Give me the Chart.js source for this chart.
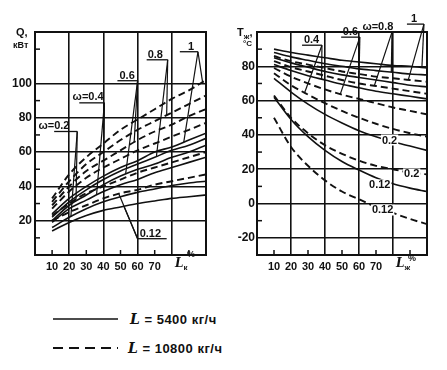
<!DOCTYPE html>
<html>
<head>
<meta charset="utf-8">
<script src="https://cdn.jsdelivr.net/npm/chart.js@4.4.0/dist/chart.umd.min.js"></script>
<style>
  html, body { margin: 0; padding: 0; background: #fff; }
  #wrap { position: relative; width: 447px; height: 370px; overflow: hidden;
          font-family: 'Liberation Sans', Arial, sans-serif; color: #111; font-weight: bold; }
  canvas { position: absolute; top: 0; }
  #qChart { left: 0; }
  #tChart { left: 224px; }
  .t { position: absolute; white-space: nowrap; line-height: 1; }
  .t sub { font-size: 8px; vertical-align: -3px; }
  .L { font-family: 'DejaVu Serif', serif; font-style: italic; }
  .key { position: absolute; font-size: 13px; letter-spacing: 0.5px; white-space: nowrap; line-height: 1; }
  svg { position: absolute; }
</style>
</head>
<body>
<div id="wrap">
  <canvas id="qChart" width="224" height="280"></canvas>
  <canvas id="tChart" width="223" height="280"></canvas>

  <div class="t" style="left:16px;top:27px;font-size:11px;">Q,</div>
  <div class="t" style="left:13px;top:41px;font-size:9px;">кВт</div>
  <div class="t" style="left:237px;top:27px;font-size:11px;">T<sub>ж</sub>,</div>
  <div class="t" style="left:243px;top:40px;font-size:8px;">°C</div>

  <div class="t" style="left:175px;top:257px;font-size:12px;"><span class="L">L</span><sub>к</sub></div>
  <div class="t" style="left:187px;top:250px;font-size:9px;">%</div>
  <div class="t" style="left:396px;top:257px;font-size:12px;"><span class="L">L</span><sub>ж</sub></div>
  <div class="t" style="left:408px;top:254px;font-size:9px;">%</div>

  <svg style="left:50px;top:312px;" width="72" height="40">
    <line x1="3" y1="7" x2="68" y2="7" stroke="#111" stroke-width="1.6"/>
    <line x1="3" y1="36" x2="68" y2="36" stroke="#111" stroke-width="1.8" stroke-dasharray="10,6"/>
  </svg>
  <div class="key" style="left:130px;top:312px;"><span class="L" style="font-size:14px;">L</span> = 5400 кг/ч</div>
  <div class="key" style="left:128px;top:341px;"><span class="L" style="font-size:14px;">L</span> = 10800 кг/ч</div>
</div>

<script>
// x values, % (L_к on the left panel, L_ж on the right panel)
const lValues = [10, 20, 30, 40, 50, 60, 70, 80, 90, 100];
const omegas = ['0.12', '0.2', '0.4', '0.6', '0.8', '1'];

const xTicks = [10, 20, 30, 40, 50, 60, 70, 80];
const xMinor = [10, 30, 50, 70, 90];
const qTicks = [20, 40, 60, 80, 100];
const qMinor = [10, 30, 50, 70, 90, 120];
const tTicks = [-20, 0, 20, 40, 60, 80];
const tMinor = [-10, 10, 30, 50, 70, 90];

// Q, кВт  --  L = 5400 кг/ч (solid)
const q5400_w012 = [14, 19, 23, 26, 28, 30, 31.5, 33, 34, 35];
const q5400_w02  = [16, 22, 27, 31, 34, 36.5, 38.5, 40.5, 42, 43];
const q5400_w04  = [19, 27, 32, 37, 41, 44, 48, 51, 54, 57];
const q5400_w06  = [20, 29, 35, 41, 46, 50, 53, 57, 60, 64];
const q5400_w08  = [22, 31, 38, 44, 49, 53, 57, 61, 64, 68];
const q5400_w1   = [24, 33, 40, 46, 51, 55, 60, 63, 67, 71];
// Q, кВт  --  L = 10800 кг/ч (dashed)
const q10800_w012 = [20, 25, 29, 33, 36, 38, 41, 43, 45, 47];
const q10800_w02  = [23, 30, 36, 40, 44, 48, 51, 54, 57, 60];
const q10800_w04  = [27, 37, 45, 51, 56, 61, 65, 69, 73, 77];
const q10800_w06  = [29, 40, 49, 55, 61, 67, 72, 76, 81, 85];
const q10800_w08  = [31, 43, 53, 60, 67, 73, 78, 83, 88, 93];
const q10800_w1   = [33, 47, 57, 65, 73, 79, 85, 91, 96, 102];

// T_ж, °C  --  L = 5400 кг/ч (solid)
const t5400_w012 = [62, 49, 39, 31, 24.5, 19.5, 15, 11.5, 9, 7];
const t5400_w02  = [73, 65, 58, 52, 47, 42.5, 39, 36, 33.5, 31];
const t5400_w04  = [81, 77.5, 74.5, 72, 69.5, 67.5, 65.5, 64, 62.5, 61];
const t5400_w06  = [85, 82, 79.5, 77, 75, 73.5, 72, 70.5, 69, 68];
const t5400_w08  = [88, 85.5, 83.5, 81.5, 80, 78.5, 77.5, 76.5, 75.5, 75];
const t5400_w1   = [90, 88, 86.5, 85, 83.5, 82.5, 81.5, 80.5, 80, 79];
// T_ж, °C  --  L = 10800 кг/ч (dashed)
const t10800_w012 = [50, 33, 22, 13.5, 7, 2.5, -2, -5.5, -9, -12];
const t10800_w02  = [63, 50, 41, 34, 29, 25, 22, 20, 18, 17];
const t10800_w04  = [76, 69, 63.5, 58.5, 54, 50, 46.5, 43.5, 41, 39];
const t10800_w06  = [79, 74, 70, 66.5, 63.5, 61, 58.5, 56, 54, 52];
const t10800_w08  = [83, 79.5, 77, 74.5, 72, 70, 68.5, 67, 65.5, 64];
const t10800_w1   = [86, 83, 81, 79, 77, 75.5, 74, 73, 72, 71];

const INK = '#111';
const FONT = "'Liberation Sans', Arial, sans-serif";

function buildSets(solid, dashed) {
  const pts = arr => arr.map((v, i) => ({ x: lValues[i], y: v }));
  return [
    ...solid.map((d, i) => ({ label: '5400 ω=' + omegas[i], data: pts(d), borderColor: INK, borderWidth: 1.6 })),
    ...dashed.map((d, i) => ({ label: '10800 ω=' + omegas[i], data: pts(d), borderColor: INK, borderWidth: 1.9, borderDash: [7, 4] }))
  ];
}

// linear read of a curve at a given x (for leader line ends)
function valueAt(data, xv) {
  for (let i = 1; i < data.length; i++) {
    if (xv <= data[i].x) {
      const a = data[i - 1], b = data[i];
      return a.y + (b.y - a.y) * (xv - a.x) / (b.x - a.x);
    }
  }
  return data[data.length - 1].y;
}

// frame, inner minor ticks, leader lines and labels
const notesPlugin = {
  id: 'notes',
  afterDatasetsDraw(chart, args, opts) {
    const { ctx, chartArea: a, scales: { x, y } } = chart;
    ctx.save();
    ctx.strokeStyle = INK;
    ctx.fillStyle = INK;
    ctx.lineWidth = 2;
    ctx.strokeRect(a.left, a.top, a.right - a.left, a.bottom - a.top);

    ctx.lineWidth = 1.5;
    opts.yMinor.forEach(v => {
      const py = y.getPixelForValue(v);
      ctx.beginPath(); ctx.moveTo(a.left, py); ctx.lineTo(a.left + 5, py); ctx.stroke();
    });
    opts.xMinor.forEach(v => {
      const px = x.getPixelForValue(v);
      ctx.beginPath(); ctx.moveTo(px, a.bottom); ctx.lineTo(px, a.bottom - 5); ctx.stroke();
    });

    ctx.lineWidth = 1.2;
    opts.leaders.forEach(l => {
      const data = chart.data.datasets[l.ds].data;
      ctx.beginPath();
      ctx.moveTo(x.getPixelForValue(l.from[0]), y.getPixelForValue(l.from[1]));
      ctx.lineTo(x.getPixelForValue(l.at), y.getPixelForValue(valueAt(data, l.at)));
      ctx.stroke();
    });

    ctx.font = 'bold 11px ' + FONT;
    ctx.textBaseline = 'alphabetic';
    opts.labels.forEach(t => {
      const px = x.getPixelForValue(t.x), py = y.getPixelForValue(t.y);
      const w = ctx.measureText(t.text).width;
      if (t.bg) {
        ctx.fillStyle = '#fff';
        ctx.fillRect(px - 1, py - 9, w + 2, 11);
        ctx.fillStyle = INK;
      }
      ctx.fillText(t.text, px, py);
      if (t.under) {
        ctx.lineWidth = 1.3;
        const uy = y.getPixelForValue(t.under[2]);
        ctx.beginPath();
        ctx.moveTo(x.getPixelForValue(t.under[0]), uy);
        ctx.lineTo(x.getPixelForValue(t.under[1]), uy);
        ctx.stroke();
      }
    });
    ctx.restore();
  }
};

function panelOptions(cfg) {
  return {
    responsive: false,
    animation: false,
    events: [],
    layout: { padding: { top: 32, right: cfg.padRight, left: 0, bottom: 0 } },
    elements: { point: { radius: 0 }, line: { cubicInterpolationMode: 'monotone' } },
    plugins: { legend: { display: false }, tooltip: { enabled: false }, notes: cfg.notes },
    scales: {
      x: {
        type: 'linear', min: 0, max: 100,
        afterBuildTicks: s => { s.ticks = xTicks.map(v => ({ value: v })); },
        afterFit: s => { s.height = 25; },
        border: { display: false },
        grid: { drawTicks: false, lineWidth: 1.6, color: c => (c.tick && c.tick.value % 20 === 0) ? INK : 'rgba(0,0,0,0)' },
        ticks: { autoSkip: false, maxRotation: 0, padding: 5, color: INK, font: { family: FONT, size: 11, weight: 'bold' },
                 callback: v => v <= 70 ? String(v) : '' }
      },
      y: {
        type: 'linear', min: cfg.yMin, max: cfg.yMax,
        afterBuildTicks: s => { s.ticks = cfg.yTicks.map(v => ({ value: v })); },
        afterFit: s => { s.width = cfg.yWidth; },
        border: { display: false },
        grid: { drawTicks: false, lineWidth: 1.6, color: INK },
        ticks: { padding: cfg.yPad, color: INK, font: { family: FONT, size: 12, weight: 'bold' }, callback: v => String(v) }
      }
    }
  };
}

new Chart(document.getElementById('qChart'), {
  type: 'line',
  data: {
    datasets: buildSets(
      [q5400_w012, q5400_w02, q5400_w04, q5400_w06, q5400_w08, q5400_w1],
      [q10800_w012, q10800_w02, q10800_w04, q10800_w06, q10800_w08, q10800_w1])
  },
  options: panelOptions({
    padRight: 18, yWidth: 35, yPad: 3, yMin: 0, yMax: 130, yTicks: qTicks,
    notes: {
      yMinor: qMinor, xMinor: xMinor,
      labels: [
        { text: 'ω=0.2', x: 2, y: 73.5, under: [11.2, 24.7, 72] },
        { text: 'ω=0.4', x: 22, y: 90.3, under: [25.9, 40.6, 88.7] },
        { text: '0.6', x: 49.4, y: 102.8, under: [48.2, 60, 101.6] },
        { text: '0.8', x: 65.9, y: 115, under: [65.3, 77.6, 113.8] },
        { text: '1', x: 89.5, y: 119.6, under: [84.7, 95.3, 118.5] },
        { text: '0.12', x: 61.2, y: 10.7, under: [60, 77, 9.5] }
      ],
      leaders: [
        { from: [24.7, 72], ds: 1, at: 21 }, { from: [24.7, 72], ds: 7, at: 24 },
        { from: [40.6, 88.7], ds: 2, at: 36 }, { from: [40.6, 88.7], ds: 8, at: 40 },
        { from: [60, 101.6], ds: 3, at: 53 }, { from: [60, 101.6], ds: 9, at: 58 },
        { from: [77.6, 113.8], ds: 4, at: 71 }, { from: [77.6, 113.8], ds: 10, at: 77 },
        { from: [95.3, 118.5], ds: 5, at: 87 }, { from: [95.3, 118.5], ds: 11, at: 98 },
        { from: [60, 9.5], ds: 0, at: 52 }, { from: [60, 9.5], ds: 6, at: 49 }
      ]
    }
  }),
  plugins: [notesPlugin]
});

new Chart(document.getElementById('tChart'), {
  type: 'line',
  data: {
    datasets: buildSets(
      [t5400_w012, t5400_w02, t5400_w04, t5400_w06, t5400_w08, t5400_w1],
      [t10800_w012, t10800_w02, t10800_w04, t10800_w06, t10800_w08, t10800_w1])
  },
  options: panelOptions({
    padRight: 20, yWidth: 33, yPad: 2, yMin: -30, yMax: 100, yTicks: tTicks,
    notes: {
      yMinor: tMinor, xMinor: xMinor,
      labels: [
        { text: '0.4', x: 27.6, y: 93.5, under: [26.5, 38.2, 92.3] },
        { text: '0.6', x: 50.5, y: 98.1, under: [49.5, 60.5, 97] },
        { text: 'ω=0.8', x: 62, y: 101, under: [69.4, 79.4, 99.9] },
        { text: '1', x: 90.6, y: 105.8, under: [88.2, 98.2, 104.6] },
        { text: '0.2', x: 73.5, y: 35, bg: true },
        { text: '0.12', x: 65.9, y: 8.8, bg: true },
        { text: '0.2', x: 86.5, y: 15.2, bg: true },
        { text: '0.12', x: 67.6, y: -5.8, bg: true }
      ],
      leaders: [
        { from: [38.2, 92.3], ds: 8, at: 28 }, { from: [38.2, 92.3], ds: 2, at: 38 },
        { from: [60.5, 97], ds: 9, at: 49 }, { from: [60.5, 97], ds: 3, at: 60 },
        { from: [79.4, 99.9], ds: 10, at: 69 }, { from: [79.4, 99.9], ds: 4, at: 79 },
        { from: [98.2, 104.6], ds: 11, at: 89 }, { from: [98.2, 104.6], ds: 5, at: 97 }
      ]
    }
  }),
  plugins: [notesPlugin]
});
</script>
</body>
</html>
